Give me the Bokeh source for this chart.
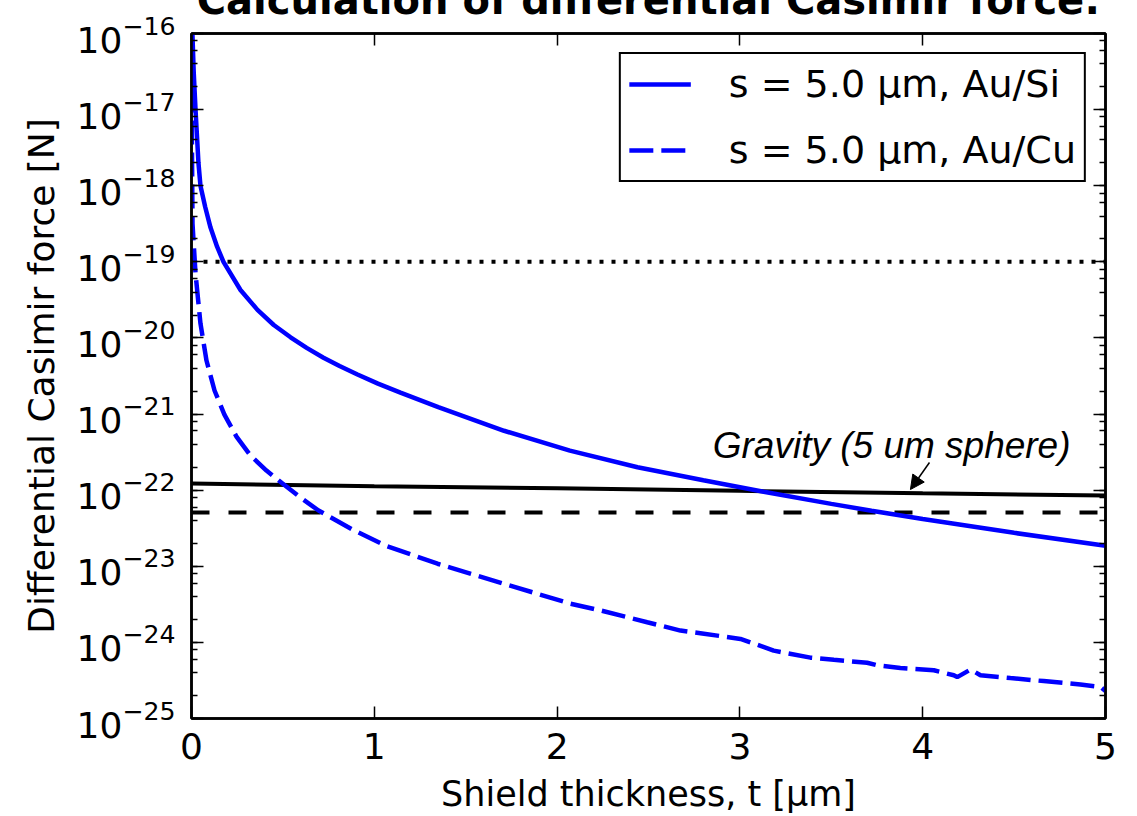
from bokeh.plotting import figure
from bokeh.models import (Range1d, LinearAxis, LogAxis, FixedTicker, LogTicker,
                          Label, Arrow, NormalHead, Legend, LegendItem)
from bokeh.embed import file_html
from bokeh.resources import INLINE

# ---- data ----
t_si = [0.0, 0.005, 0.012, 0.022, 0.038, 0.049, 0.075, 0.104, 0.14, 0.175, 0.268,
        0.361, 0.45, 0.542, 0.63, 0.722, 0.81, 0.908, 1.02, 1.143, 1.35, 1.71,
        2.07, 2.44, 2.80, 3.13, 3.5, 3.72, 4.0, 4.5, 5.0]
f_si = [3.16e-16, 1.0e-16, 3.16e-17, 1.0e-17, 2.0e-18, 1.0e-18, 5.25e-19,
        2.82e-19, 1.58e-19, 1.0e-19, 4.27e-20, 2.34e-20, 1.48e-20, 1.02e-20,
        7.41e-21, 5.50e-21, 4.27e-21, 3.31e-21, 2.51e-21, 1.91e-21, 1.23e-21,
        6.03e-22, 3.31e-22, 2.0e-22, 1.35e-22, 9.55e-23, 6.61e-23, 5.37e-23,
        4.17e-23, 2.75e-23, 1.86e-23]

t_cu = [0.0, 0.002, 0.0055, 0.022, 0.049, 0.082, 0.126, 0.18, 0.246, 0.323,
        0.41, 0.498, 0.596, 0.695, 0.881, 1.061, 1.346, 1.71, 2.07, 2.237,
        2.493, 2.675, 2.784, 3.003, 3.058, 3.185, 3.386, 3.514, 3.696, 3.751,
        3.878, 4.061, 4.17, 4.189, 4.262, 4.316, 4.48, 4.662, 4.863, 4.973, 5.0]
f_cu = [5.0e-17, 5.0e-18, 3.18e-19, 7.01e-20, 1.55e-20, 5.05e-21, 2.04e-21,
        9.84e-22, 5.06e-22, 2.84e-22, 1.81e-22, 1.22e-22, 8.0e-23, 5.40e-23,
        3.03e-23, 1.87e-23, 1.08e-23, 5.89e-24, 3.24e-24, 2.63e-24, 1.84e-24,
        1.43e-24, 1.32e-24, 1.11e-24, 1.0e-24, 7.8e-25, 6.3e-25, 5.9e-25,
        5.4e-25, 5.0e-25, 4.6e-25, 4.3e-25, 3.7e-25, 3.5e-25, 4.4e-25, 3.7e-25,
        3.4e-25, 3.1e-25, 2.8e-25, 2.6e-25, 2.3e-25]

t_grav = [0, 1, 2, 3, 4, 5]
f_grav = [1.22e-22, 1.13e-22, 1.06e-22, 9.8e-23, 9.1e-23, 8.5e-23]

t_ref = [0, 5]
f_ref_dashed = [5.1e-23, 5.1e-23]
f_ref_dotted = [1.0e-19, 1.0e-19]

x_ticks = [0, 1, 2, 3, 4, 5]
legend_labels = ["s = 5.0 μm, Au/Si", "s = 5.0 μm, Au/Cu"]
title_text = "Calculation of differential Casimir force:"
gravity_text = "Gravity (5 um sphere)"
x_label = "Shield thickness, t [μm]"
y_label = "Differential Casimir force [N]"

FONT = "DejaVu Sans"
SHIFT = 39      # part of the top border that lies above the window (title is cut)
TOP = 33 + SHIFT
FRAME_H = 685
BOTTOM = 98

p = figure(width=1129, height=TOP + FRAME_H + BOTTOM,
           x_axis_type="linear", y_axis_type="log",
           x_range=Range1d(0, 5), y_range=Range1d(1e-25, 1e-16),
           output_backend="svg", toolbar_location=None,
           min_border_left=191, min_border_right=24, min_border_top=TOP,
           min_border_bottom=BOTTOM, margin=(-SHIFT, 0, 0, 0))
p.xgrid.visible = False
p.ygrid.visible = False
p.outline_line_color = "black"
p.outline_line_width = 2.5
p.outline_line_alpha = 1.0
p.background_fill_color = "white"
p.border_fill_color = "white"

p.title.text = title_text
p.title.align = "center"
p.title.text_font = FONT
p.title.text_font_size = "40px"
p.title.text_font_style = "bold"
p.title.text_color = "black"
p.title.standoff = 21

xt = FixedTicker(ticks=x_ticks)
yt = LogTicker(num_minor_ticks=5)

def style(ax, labels=True):
    ax.axis_line_color = "black"
    ax.axis_line_width = 2.5
    ax.major_tick_in = 12
    ax.major_tick_out = 0
    ax.minor_tick_in = 6
    ax.minor_tick_out = 0
    ax.major_tick_line_width = 1.5
    ax.minor_tick_line_width = 1.5
    ax.major_tick_line_color = "black"
    ax.minor_tick_line_color = "black"
    ax.major_label_text_font = FONT
    ax.major_label_text_font_size = "36px"
    ax.major_label_text_color = "black" if labels else None
    ax.axis_label_text_font = FONT
    ax.axis_label_text_font_size = "35px"
    ax.axis_label_text_font_style = "normal"
    ax.axis_label_text_color = "black"

xa = p.xaxis[0]
xa.ticker = xt
style(xa)
xa.minor_tick_in = 0
xa.major_label_standoff = 14
xa.axis_label = x_label
xa.axis_label_standoff = 12

ya = p.yaxis[0]
ya.ticker = yt
style(ya)
ya.major_label_standoff = 16
ya.axis_label = y_label
ya.axis_label_text_font_size = "36px"
ya.axis_label_standoff = 12

top = LinearAxis(ticker=xt)
style(top, labels=False)
top.minor_tick_in = 0
top.major_label_text_font_size = "0px"
top.major_label_standoff = 0
p.add_layout(top, "above")

right = LogAxis(ticker=yt)
style(right, labels=False)
right.major_label_text_font_size = "0px"
right.major_label_standoff = 0
p.add_layout(right, "right")

# reference lines
p.line(t_ref, f_ref_dotted, line_color="black", line_width=4, line_dash="4 8")
p.line(t_ref, f_ref_dashed, line_color="black", line_width=4, line_dash="18 19")
p.line(t_grav, f_grav, line_color="black", line_width=4)

r_si = p.line(t_si, f_si, line_color="blue", line_width=4.5)
r_cu = p.line(t_cu, f_cu, line_color="blue", line_width=4.5, line_dash="24 8")

legend = Legend(items=[LegendItem(label=legend_labels[0], renderers=[r_si]),
                       LegendItem(label=legend_labels[1], renderers=[r_cu])],
                location="top_right", margin=19, padding=8, spacing=22,
                glyph_width=62, glyph_height=40, label_height=40,
                label_standoff=38, label_text_font=FONT,
                label_text_font_size="38px", label_text_baseline="middle",
                label_text_color="black",
                border_line_color="black", border_line_width=2.5,
                border_line_alpha=1.0,
                background_fill_color="white", background_fill_alpha=1.0)
p.add_layout(legend, "center")

p.add_layout(Label(x=3.83, y=3.9e-22, text=gravity_text, text_align="center",
                   text_baseline="alphabetic", text_font="Liberation Sans",
                   text_font_style="italic", text_font_size="37px",
                   text_color="black"))
p.add_layout(Arrow(x_start=4.037, y_start=2.31e-22, x_end=3.933, y_end=1.02e-22,
                   line_color="black", line_width=1.5,
                   end=NormalHead(size=14, fill_color="black", line_color="black")))

open("out.html", "w").write(file_html(p, INLINE))
